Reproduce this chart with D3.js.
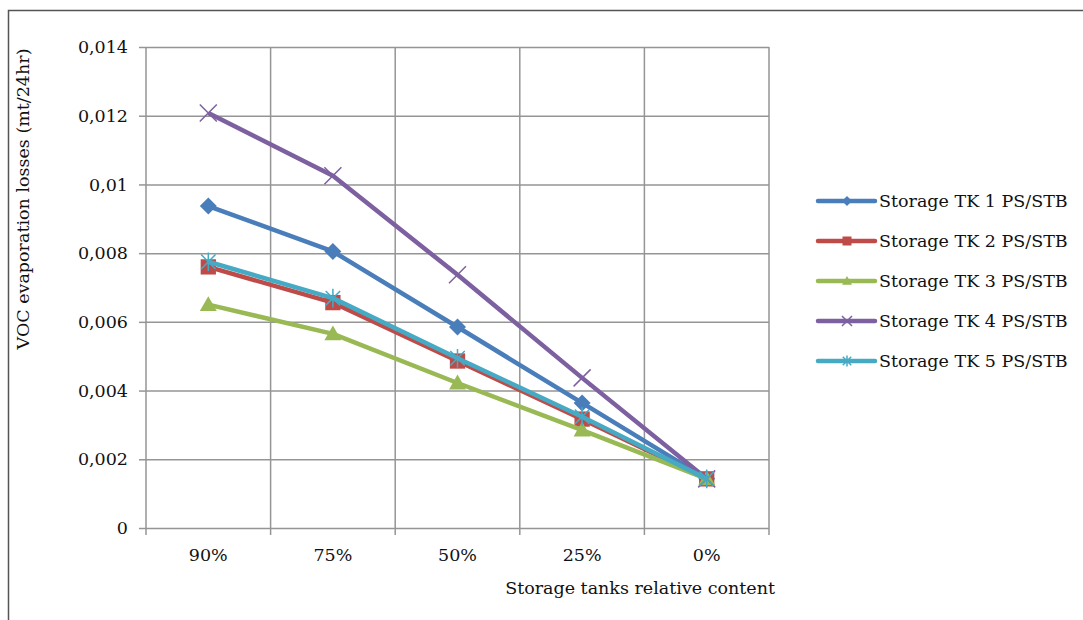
<!DOCTYPE html>
<html lang="en">
<head>
  <meta charset="UTF-8">
  <title>VOC evaporation losses</title>
  <script src="https://d3js.org/d3.v7.min.js"></script>
  <style>
    body { margin: 0; background: #fff; }
    svg { font-family: 'DejaVu Serif', serif; }
    .tick-label { font-family: 'DejaVu Serif', serif; font-size: 17.5px; fill: #111; }
    .legend-label { font-family: 'DejaVu Serif', serif; font-size: 17.5px; fill: #111; }
  </style>
</head>
<body>
  <svg></svg>
  <script>
    // values
    const categories = ['90%', '75%', '50%', '25%', '0%'];
    const seriesNames = ['Storage TK 1 PS/STB', 'Storage TK 2 PS/STB', 'Storage TK 3 PS/STB', 'Storage TK 4 PS/STB', 'Storage TK 5 PS/STB'];
    const tk1 = [0.00937, 0.00805, 0.00585, 0.00364, 0.00143];
    const tk2 = [0.0076, 0.00656, 0.00486, 0.00317, 0.00143];
    const tk3 = [0.0065, 0.00565, 0.00422, 0.00285, 0.00143];
    const tk4 = [0.01208, 0.01025, 0.00737, 0.00437, 0.00143];
    const tk5 = [0.00775, 0.00669, 0.00494, 0.00324, 0.00143];
    const yTicks = [0, 0.002, 0.004, 0.006, 0.008, 0.01, 0.012, 0.014];
    const yTickLabels = ['0', '0,002', '0,004', '0,006', '0,008', '0,01', '0,012', '0,014'];

    const colors = ['#4a7ebb', '#be4b48', '#98b954', '#7d60a0', '#46aac5'];
    const markers = ['diamond', 'square', 'triangle', 'x', 'star'];
    const seriesValues = [tk1, tk2, tk3, tk4, tk5];

    const width = 1083, height = 620;
    const plot = { left: 146, right: 769, top: 47, bottom: 528 };

    const svg = d3.select('svg')
      .attr('width', width)
      .attr('height', height);

    // outer frame (only top and left edges fall inside the picture)
    svg.append('path')
      .attr('d', `M8.5,${height} V10.5 H${width}`)
      .attr('fill', 'none')
      .attr('stroke', '#555')
      .attr('stroke-width', 1.5);

    const x = d3.scaleBand()
      .domain(categories)
      .range([plot.left, plot.right])
      .padding(0);

    const y = d3.scaleLinear()
      .domain([0, 0.014])
      .range([plot.bottom, plot.top]);

    const gridColor = '#959595';

    // horizontal gridlines + left ticks
    svg.append('g')
      .attr('transform', `translate(${plot.left},0)`)
      .call(d3.axisLeft(y)
        .tickValues(yTicks)
        .tickSize(7)
        .tickPadding(11)
        .tickFormat((d, i) => yTickLabels[i]))
      .attr('font-family', null)
      .attr('font-size', null)
      .call(g => g.select('.domain').remove())
      .call(g => g.selectAll('.tick line').attr('stroke', gridColor).attr('stroke-width', 1.5))
      .call(g => g.selectAll('.tick').append('line')
        .attr('x1', 0).attr('x2', plot.right - plot.left)
        .attr('stroke', gridColor).attr('stroke-width', 1.5))
      .call(g => g.selectAll('.tick text')
        .attr('class', 'tick-label')
        .attr('fill', null));

    // vertical gridlines at category boundaries
    const boundaries = categories.map(c => x(c)).concat([x(categories[categories.length - 1]) + x.bandwidth()]);
    svg.append('g').selectAll('line')
      .data(boundaries)
      .join('line')
      .attr('x1', d => d).attr('x2', d => d)
      .attr('y1', plot.top).attr('y2', plot.bottom + 7)
      .attr('stroke', gridColor)
      .attr('stroke-width', 1.5);

    // x labels
    svg.append('g').selectAll('text')
      .data(categories)
      .join('text')
      .attr('class', 'tick-label')
      .attr('x', d => x(d) + x.bandwidth() / 2)
      .attr('y', 555)
      .attr('dy', '0.35em')
      .attr('text-anchor', 'middle')
      .text(d => d);

    svg.append('text')
      .attr('class', 'tick-label')
      .attr('x', 775)
      .attr('y', 588)
      .attr('dy', '0.35em')
      .attr('text-anchor', 'end')
      .text('Storage tanks relative content');

    svg.append('text')
      .attr('class', 'tick-label')
      .attr('transform', 'translate(23,199) rotate(-90)')
      .attr('dy', '0.35em')
      .attr('text-anchor', 'middle')
      .text('VOC evaporation losses (mt/24hr)');

    function markerPath(type, r) {
      switch (type) {
        case 'diamond': return `M0,${-r}L${r},0L0,${r}L${-r},0Z`;
        case 'square': return `M${-r * 0.9},${-r * 0.9}h${r * 1.8}v${r * 1.8}h${-r * 1.8}Z`;
        case 'triangle': return `M0,${-r}L${r},${r * 0.75}L${-r},${r * 0.75}Z`;
        case 'x': return `M${-r},${-r}L${r},${r}M${-r},${r}L${r},${-r}`;
        default: return `M${-r * 0.85},${-r * 0.85}L${r * 0.85},${r * 0.85}M${-r * 0.85},${r * 0.85}L${r * 0.85},${-r * 0.85}M0,${-r * 1.1}L0,${r * 1.1}`;
      }
    }

    function drawMarker(sel, type, color, r) {
      const stroked = type === 'x' || type === 'star';
      sel.attr('d', markerPath(type, r))
        .attr('fill', stroked ? 'none' : color)
        .attr('stroke', stroked ? color : 'none')
        .attr('stroke-width', stroked ? 1.5 : 0);
    }

    const line = d3.line()
      .x((d, i) => x(categories[i]) + x.bandwidth() / 2)
      .y(d => y(d));

    seriesValues.forEach((vals, s) => {
      const g = svg.append('g');
      g.append('path')
        .datum(vals)
        .attr('d', line)
        .attr('fill', 'none')
        .attr('stroke', colors[s])
        .attr('stroke-width', 4.5)
        .attr('stroke-linejoin', 'round');
      g.selectAll('path.marker')
        .data(vals)
        .join('path')
        .attr('class', 'marker')
        .attr('transform', (d, i) => `translate(${x(categories[i]) + x.bandwidth() / 2},${y(d)})`)
        .call(drawMarker, markers[s], colors[s], 8.5);
    });

    // legend
    const legend = svg.append('g');
    seriesNames.forEach((name, s) => {
      const ly = 201 + s * 40;
      legend.append('line')
        .attr('x1', 818).attr('x2', 875)
        .attr('y1', ly).attr('y2', ly)
        .attr('stroke', colors[s])
        .attr('stroke-width', 4.5)
        .attr('stroke-linecap', 'round');
      legend.append('path')
        .attr('transform', `translate(847,${ly})`)
        .call(drawMarker, markers[s], colors[s], 5);
      legend.append('text')
        .attr('class', 'legend-label')
        .attr('x', 879)
        .attr('y', ly)
        .attr('dy', '0.35em')
        .text(name);
    });
  </script>
</body>
</html>
